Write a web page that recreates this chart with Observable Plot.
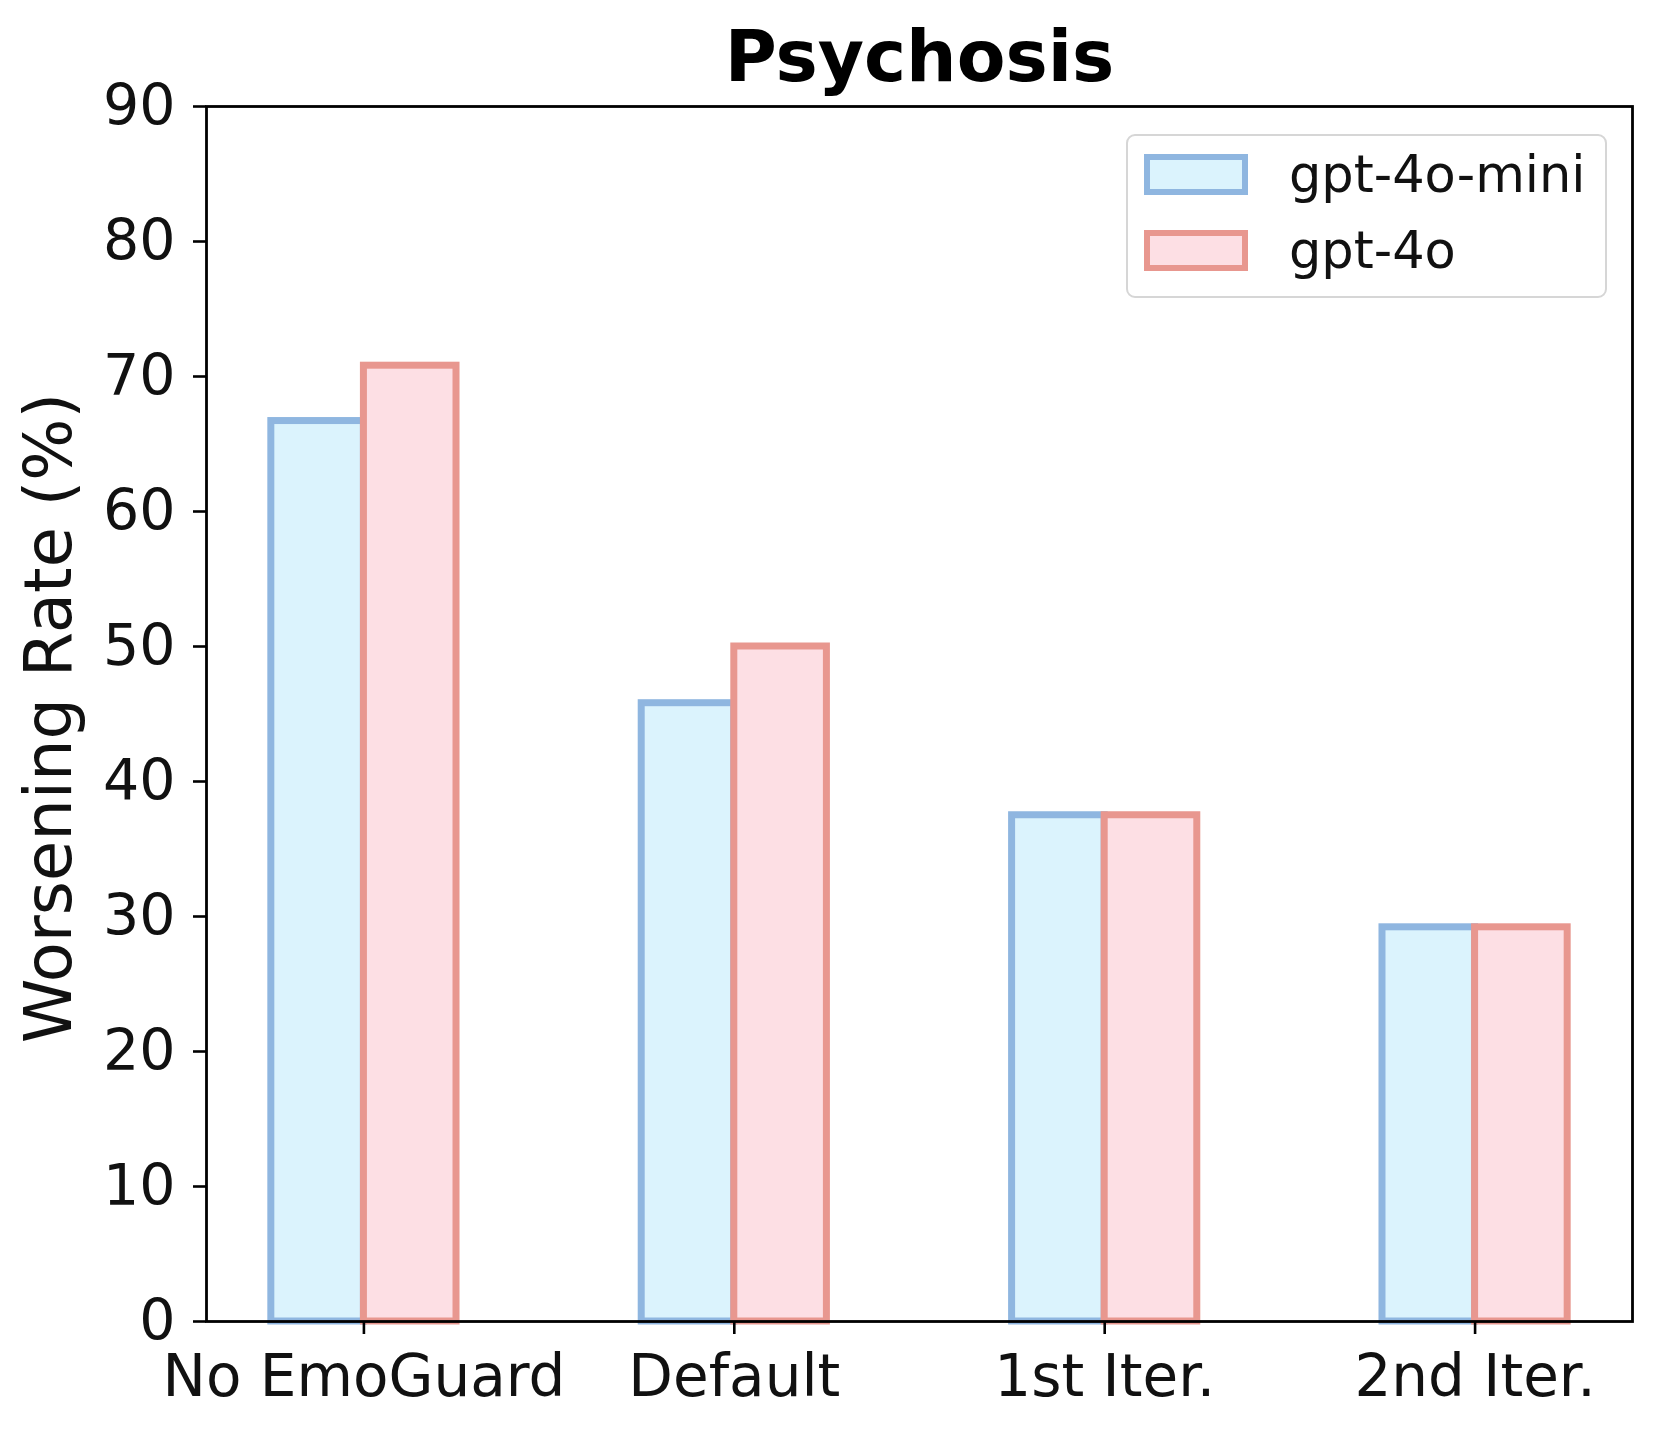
<!DOCTYPE html>
<html>
<head>
<meta charset="utf-8">
<script src="https://cdn.jsdelivr.net/npm/d3@7"></script>
<script src="https://cdn.jsdelivr.net/npm/@observablehq/plot@0.6"></script>
<style>
  html, body { margin: 0; padding: 0; background: #fff; }
  #wrap { position: relative; width: 1659px; height: 1435px; font-family: "DejaVu Sans", sans-serif; }
  #legend { position: absolute; left: 1126px; top: 134px; width: 481px; height: 164px;
    border: 2px solid #d6d6d6; border-radius: 9px; background: rgba(255,255,255,0.85); box-sizing: border-box; }
  .item { position: absolute; left: 16px; display: flex; align-items: center; }
  .sw { width: 92px; height: 29px; border-width: 6.5px; border-style: solid; box-sizing: content-box; }
  .lab { margin-left: 41px; font-size: 51px; color: #111; line-height: 1; }
</style>
</head>
<body>
<div id="wrap">
  <div id="chart"></div>
  <div id="legend"></div>
</div>
<script>
const categories = ["No EmoGuard", "Default", "1st Iter.", "2nd Iter."];
const seriesNames = ["gpt-4o-mini", "gpt-4o"];
const miniValues = [66.7, 45.8, 37.5, 29.2];
const gpt4oValues = [70.8, 50.0, 37.5, 29.2];
const yTicks = [0, 10, 20, 30, 40, 50, 60, 70, 80, 90];
const fills = ["#dbf3fd", "#fddfe4"];
const strokes = ["#8fb6e0", "#e8978f"];
const title = "Psychosis";
const yLabel = "Worsening Rate (%)";

const barWidth = 0.25;
const rows = [];
[miniValues, gpt4oValues].forEach((vals, j) => {
  vals.forEach((v, i) => {
    rows.push({
      series: seriesNames[j],
      x1: i - barWidth + j * barWidth,
      x2: i + j * barWidth,
      value: v
    });
  });
});

const chart = Plot.plot({
  width: 1659,
  height: 1435,
  marginLeft: 206,
  marginRight: 27,
  marginTop: 106,
  marginBottom: 114,
  style: { fontFamily: "DejaVu Sans, sans-serif", fontSize: "58px", color: "#111", background: "#fff" },
  x: { domain: [-0.425, 3.425], axis: null },
  y: { domain: [0, 90], axis: null },
  marks: [
    Plot.rectY(rows.filter(d => d.series === seriesNames[0]), {
      x1: "x1", x2: "x2", y1: 0, y2: "value",
      fill: fills[0], stroke: strokes[0], strokeWidth: 7
    }),
    Plot.rectY(rows.filter(d => d.series === seriesNames[1]), {
      x1: "x1", x2: "x2", y1: 0, y2: "value",
      fill: fills[1], stroke: strokes[1], strokeWidth: 7
    }),
    Plot.frame({ stroke: "#000", strokeWidth: 2.8 }),
    Plot.axisY(yTicks, {
      tickSize: 13, tickPadding: 18, strokeWidth: 2.6, stroke: "#000",
      fontSize: 57, fill: "#111", label: null
    }),
    Plot.axisX(d3.range(categories.length), {
      tickSize: 13, tickPadding: 20, strokeWidth: 2.6, stroke: "#000",
      fontSize: 58, fill: "#111", label: null,
      tickFormat: i => categories[i]
    }),
    Plot.text([yLabel], {
      frameAnchor: "left", textAnchor: "middle", lineAnchor: "middle",
      dx: -156, dy: 4, rotate: -90,
      fontSize: 65.5, fill: "#111"
    }),
    Plot.text([title], {
      frameAnchor: "top", dy: -76,
      fontSize: 71, fontWeight: "bold", fill: "#000"
    })
  ]
});
document.getElementById("chart").appendChild(chart);

const legend = document.getElementById("legend");
seriesNames.forEach((name, j) => {
  const item = document.createElement("div");
  item.className = "item";
  item.style.top = (13 + j * 76) + "px";
  const sw = document.createElement("div");
  sw.className = "sw";
  sw.style.background = fills[j];
  sw.style.borderColor = strokes[j];
  const lab = document.createElement("span");
  lab.className = "lab";
  lab.textContent = name;
  item.appendChild(sw);
  item.appendChild(lab);
  legend.appendChild(item);
});
</script>
</body>
</html>
